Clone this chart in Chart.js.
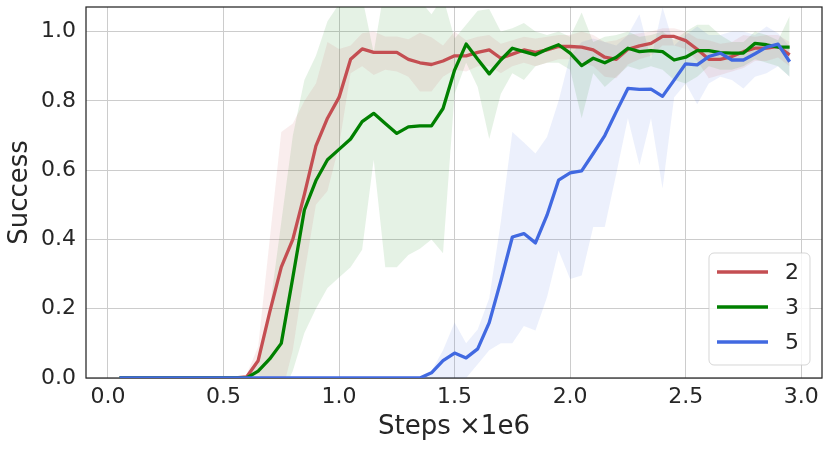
<!DOCTYPE html>
<html lang="en">
<head>
    <meta charset="UTF-8">
    <title>Success vs Steps</title>
    <script src="https://cdn.jsdelivr.net/npm/chart.js"></script>
    <style>
        body {
            margin: 0;
            background: #ffffff;
        }
        #wrap {
            width: 830px;
            height: 450px;
        }
    </style>
</head>
<body>
    <div id="wrap">
        <canvas id="successChart" width="830" height="450"></canvas>
    </div>

    <script>
        // x positions (millions of steps)
        const steps = [
            0.05, 0.1, 0.15, 0.2, 0.25, 0.3, 0.35, 0.4, 0.45, 0.5,
            0.55, 0.6, 0.65, 0.7, 0.75, 0.8, 0.85, 0.9, 0.95, 1.0,
            1.05, 1.1, 1.15, 1.2, 1.25, 1.3, 1.35, 1.4, 1.45, 1.5,
            1.55, 1.6, 1.65, 1.7, 1.75, 1.8, 1.85, 1.9, 1.95, 2.0,
            2.05, 2.1, 2.15, 2.2, 2.25, 2.3, 2.35, 2.4, 2.45, 2.5,
            2.55, 2.6, 2.65, 2.7, 2.75, 2.8, 2.85, 2.9, 2.95
        ];

        const xTicks = [0.0, 0.5, 1.0, 1.5, 2.0, 2.5, 3.0];
        const yTicks = [0.0, 0.2, 0.4, 0.6, 0.8, 1.0];

        // series "2"
        const success2 = [
            0, 0, 0, 0, 0, 0, 0, 0, 0, 0,
            0, 0.003, 0.05, 0.19, 0.32, 0.40, 0.53, 0.67, 0.75, 0.81,
            0.92, 0.95, 0.94, 0.94, 0.94, 0.92, 0.91, 0.905, 0.915, 0.93,
            0.93, 0.94, 0.947, 0.923, 0.935, 0.947, 0.94, 0.947, 0.957, 0.957,
            0.955, 0.947, 0.926, 0.92, 0.949, 0.959, 0.966, 0.986, 0.986, 0.974,
            0.949, 0.92, 0.92, 0.928, 0.942, 0.952, 0.952, 0.957, 0.933
        ];
        const success2Hi = [
            0, 0, 0, 0, 0, 0, 0, 0, 0, 0,
            0, 0.01, 0.09, 0.40, 0.71, 0.735, 0.80, 0.85, 0.97, 0.95,
            0.96, 0.995, 1.0, 0.986, 0.986, 0.978, 0.997, 0.984, 0.96, 1.0,
            0.975, 0.985, 0.99, 0.965, 0.975, 0.985, 0.98, 0.985, 0.99, 0.99,
            1.0, 0.99, 0.97, 0.975, 0.99, 0.995, 1.0, 1.01, 1.01, 1.0,
            0.98, 0.975, 0.965, 0.97, 0.99, 0.985, 0.99, 0.99, 0.97
        ];
        const success2Lo = [
            0, 0, 0, 0, 0, 0, 0, 0, 0, 0,
            0, 0, 0.01, -0.02, -0.05, 0.08, 0.30, 0.50, 0.54, 0.67,
            0.88, 0.90, 0.875, 0.89, 0.885, 0.87, 0.827, 0.827, 0.87, 0.89,
            0.885, 0.9, 0.9, 0.88, 0.9, 0.91, 0.9, 0.91, 0.92, 0.92,
            0.91, 0.9, 0.87, 0.865, 0.905, 0.92, 0.93, 0.96, 0.96, 0.95,
            0.915, 0.865, 0.875, 0.885, 0.895, 0.915, 0.915, 0.925, 0.9
        ];

        // series "3"
        const success3 = [
            0, 0, 0, 0, 0, 0, 0, 0, 0, 0,
            0, 0, 0.02, 0.055, 0.10, 0.29, 0.485, 0.57, 0.63, 0.66,
            0.69, 0.74, 0.764, 0.735, 0.706, 0.725, 0.728, 0.728, 0.778, 0.889,
            0.964, 0.92, 0.878, 0.918, 0.952, 0.942, 0.933, 0.949, 0.962, 0.938,
            0.902, 0.923, 0.91, 0.926, 0.952, 0.942, 0.945, 0.942, 0.918, 0.926,
            0.945, 0.945, 0.939, 0.938, 0.938, 0.966, 0.962, 0.955, 0.955
        ];
        const success3Hi = [
            0, 0, 0, 0, 0, 0, 0, 0, 0, 0,
            0, 0, 0.04, 0.20, 0.45, 0.70, 0.86, 0.93, 1.03, 1.08,
            1.12, 1.10, 0.94, 1.14, 1.14, 1.10, 1.09, 1.05, 1.10, 0.98,
            1.02, 1.06, 1.065, 1.0, 1.01, 1.025, 1.0, 0.99, 1.0, 0.985,
            1.055, 0.97, 0.985, 0.99, 1.0, 0.985, 0.99, 1.0, 0.975, 1.0,
            1.02, 1.02, 0.99, 0.97, 0.97, 1.0, 0.99, 0.975, 1.045
        ];
        const success3Lo = [
            0, 0, 0, 0, 0, 0, 0, 0, 0, 0,
            0, 0, -0.02, -0.05, -0.05, 0.02, 0.13, 0.20, 0.26, 0.29,
            0.32, 0.37, 0.63, 0.32, 0.32, 0.355, 0.373, 0.40, 0.36, 0.82,
            0.91, 0.84, 0.69, 0.82, 0.88, 0.86, 0.9, 0.91, 0.91, 0.89,
            0.75, 0.88, 0.84, 0.87, 0.9, 0.89, 0.9, 0.89, 0.86, 0.85,
            0.87, 0.9, 0.89, 0.89, 0.9, 0.92, 0.91, 0.9, 0.87
        ];

        // series "5"
        const success5 = [
            0, 0, 0, 0, 0, 0, 0, 0, 0, 0,
            0, 0, 0, 0, 0, 0, 0, 0, 0, 0,
            0, 0, 0, 0, 0, 0, 0, 0.015, 0.05, 0.072,
            0.058, 0.084, 0.16, 0.28, 0.407, 0.417, 0.39, 0.47, 0.571, 0.592,
            0.598, 0.648, 0.70, 0.769, 0.836, 0.833, 0.834, 0.813, 0.86, 0.907,
            0.904, 0.928, 0.938, 0.918, 0.918, 0.936, 0.955, 0.964, 0.913
        ];
        const success5Hi = [
            0, 0, 0, 0, 0, 0, 0, 0, 0, 0,
            0, 0, 0, 0, 0, 0, 0, 0, 0, 0,
            0, 0, 0, 0, 0, 0, 0, 0.02, 0.08, 0.16,
            0.10, 0.14, 0.23, 0.45, 0.71, 0.68, 0.648, 0.696, 0.80, 0.93,
            0.97, 0.98, 0.97, 0.96, 0.99, 1.05, 0.92, 1.07, 0.96, 0.99,
            1.015, 0.99, 0.99, 1.0, 1.0, 0.99, 1.015, 0.995, 0.957
        ];
        const success5Lo = [
            0, 0, 0, 0, 0, 0, 0, 0, 0, 0,
            0, 0, 0, 0, 0, 0, 0, 0, 0, 0,
            0, 0, 0, 0, 0, 0, 0, 0, 0, -0.02,
            0, 0.04, 0.08, 0.10, 0.10, 0.15, 0.137, 0.233, 0.368, 0.286,
            0.296, 0.436, 0.436, 0.59, 0.75, 0.614, 0.75, 0.547, 0.81, 0.85,
            0.79, 0.85, 0.87, 0.86, 0.836, 0.87, 0.88, 0.9, 0.87
        ];

        const seriesLabels = ['2', '3', '5'];
        const seriesColors = ['#c44e52', '#008000', '#4169e1'];
        const bandColors = ['rgba(196, 78, 82, 0.1)', 'rgba(0, 128, 0, 0.1)', 'rgba(65, 105, 225, 0.1)'];

        const FONT = '"DejaVu Sans", sans-serif';
        const INK = '#262626';

        function toPoints(values) {
            return steps.map((s, i) => ({ x: s, y: values[i] }));
        }

        function lineSet(label, values, color, order) {
            return {
                label: label,
                data: toPoints(values),
                borderColor: color,
                backgroundColor: color,
                borderWidth: 3.3,
                pointRadius: 0,
                tension: 0,
                fill: false,
                borderJoinStyle: 'round',
                order: order
            };
        }

        function bandSet(values, fillColor, fillTarget) {
            return {
                data: toPoints(values),
                borderWidth: 0,
                borderColor: 'rgba(0,0,0,0)',
                backgroundColor: fillColor,
                pointRadius: 0,
                tension: 0,
                fill: fillTarget,
                order: 5
            };
        }

        // frame drawn under the lines, like the matplotlib spines here
        const framePlugin = {
            id: 'frame',
            beforeDatasetsDraw(chart) {
                const { ctx, chartArea } = chart;
                ctx.save();
                ctx.strokeStyle = INK;
                ctx.lineWidth = 1.25;
                ctx.strokeRect(chartArea.left, chartArea.top,
                    chartArea.right - chartArea.left, chartArea.bottom - chartArea.top);
                ctx.restore();
            }
        };

        // legend in the lower right corner of the plot area
        const cornerLegend = {
            id: 'cornerLegend',
            afterDraw(chart) {
                const { ctx, chartArea } = chart;
                const w = 101, h = 112;
                const x0 = chartArea.right - 12 - w;
                const y0 = chartArea.bottom - 13 - h;
                ctx.save();
                ctx.beginPath();
                ctx.roundRect(x0, y0, w, h, 5);
                ctx.fillStyle = 'rgba(255, 255, 255, 0.8)';
                ctx.fill();
                ctx.strokeStyle = 'rgba(204, 204, 204, 0.8)';
                ctx.lineWidth = 1;
                ctx.stroke();

                ctx.font = '22px ' + FONT;
                ctx.textBaseline = 'middle';
                ctx.textAlign = 'left';
                seriesLabels.forEach((label, i) => {
                    const y = y0 + 19 + i * 35;
                    ctx.beginPath();
                    ctx.moveTo(x0 + 8, y);
                    ctx.lineTo(x0 + 59, y);
                    ctx.strokeStyle = seriesColors[i];
                    ctx.lineWidth = 3.3;
                    ctx.stroke();
                    ctx.fillStyle = INK;
                    ctx.fillText(label, x0 + 76, y + 1);
                });
                ctx.restore();
            }
        };

        const ctx = document.getElementById('successChart').getContext('2d');
        const successChart = new Chart(ctx, {
            type: 'line',
            data: {
                datasets: [
                    lineSet(seriesLabels[2], success5, seriesColors[2], 0),
                    lineSet(seriesLabels[1], success3, seriesColors[1], 1),
                    lineSet(seriesLabels[0], success2, seriesColors[0], 2),
                    bandSet(success2Hi, bandColors[0], '+1'),
                    bandSet(success2Lo, bandColors[0], false),
                    bandSet(success3Hi, bandColors[1], '+1'),
                    bandSet(success3Lo, bandColors[1], false),
                    bandSet(success5Hi, bandColors[2], '+1'),
                    bandSet(success5Lo, bandColors[2], false)
                ]
            },
            options: {
                responsive: false,
                animation: false,
                devicePixelRatio: 1,
                layout: {
                    padding: { left: 0, top: 7, right: 8, bottom: 0 }
                },
                plugins: {
                    legend: { display: false },
                    tooltip: { enabled: false }
                },
                scales: {
                    x: {
                        type: 'linear',
                        min: -0.095,
                        max: 3.09,
                        afterBuildTicks: scale => {
                            scale.ticks = xTicks.map(v => ({ value: v }));
                        },
                        afterFit: scale => {
                            scale.height = 72;
                            scale.paddingLeft = 0;
                            scale.paddingRight = 0;
                        },
                        ticks: {
                            callback: v => v.toFixed(1),
                            font: { family: FONT, size: 22 },
                            color: INK,
                            padding: 6,
                            autoSkip: false,
                            maxRotation: 0
                        },
                        grid: { color: '#cccccc', lineWidth: 1, drawTicks: false },
                        border: { display: false },
                        title: {
                            display: true,
                            text: 'Steps ×1e6',
                            font: { family: FONT, size: 26 },
                            color: INK,
                            padding: { top: 0, bottom: 7 }
                        }
                    },
                    y: {
                        min: 0,
                        max: 1.071,
                        afterBuildTicks: scale => {
                            scale.ticks = yTicks.map(v => ({ value: v }));
                        },
                        afterFit: scale => {
                            scale.width = 86;
                            scale.paddingTop = 0;
                            scale.paddingBottom = 0;
                        },
                        ticks: {
                            callback: v => v.toFixed(1),
                            font: { family: FONT, size: 22 },
                            color: INK,
                            padding: 10
                        },
                        grid: { color: '#cccccc', lineWidth: 1, drawTicks: false },
                        border: { display: false },
                        title: {
                            display: true,
                            text: 'Success',
                            font: { family: FONT, size: 26 },
                            color: INK,
                            padding: { top: 5, bottom: 0 }
                        }
                    }
                }
            },
            plugins: [framePlugin, cornerLegend]
        });
    </script>
</body>
</html>
